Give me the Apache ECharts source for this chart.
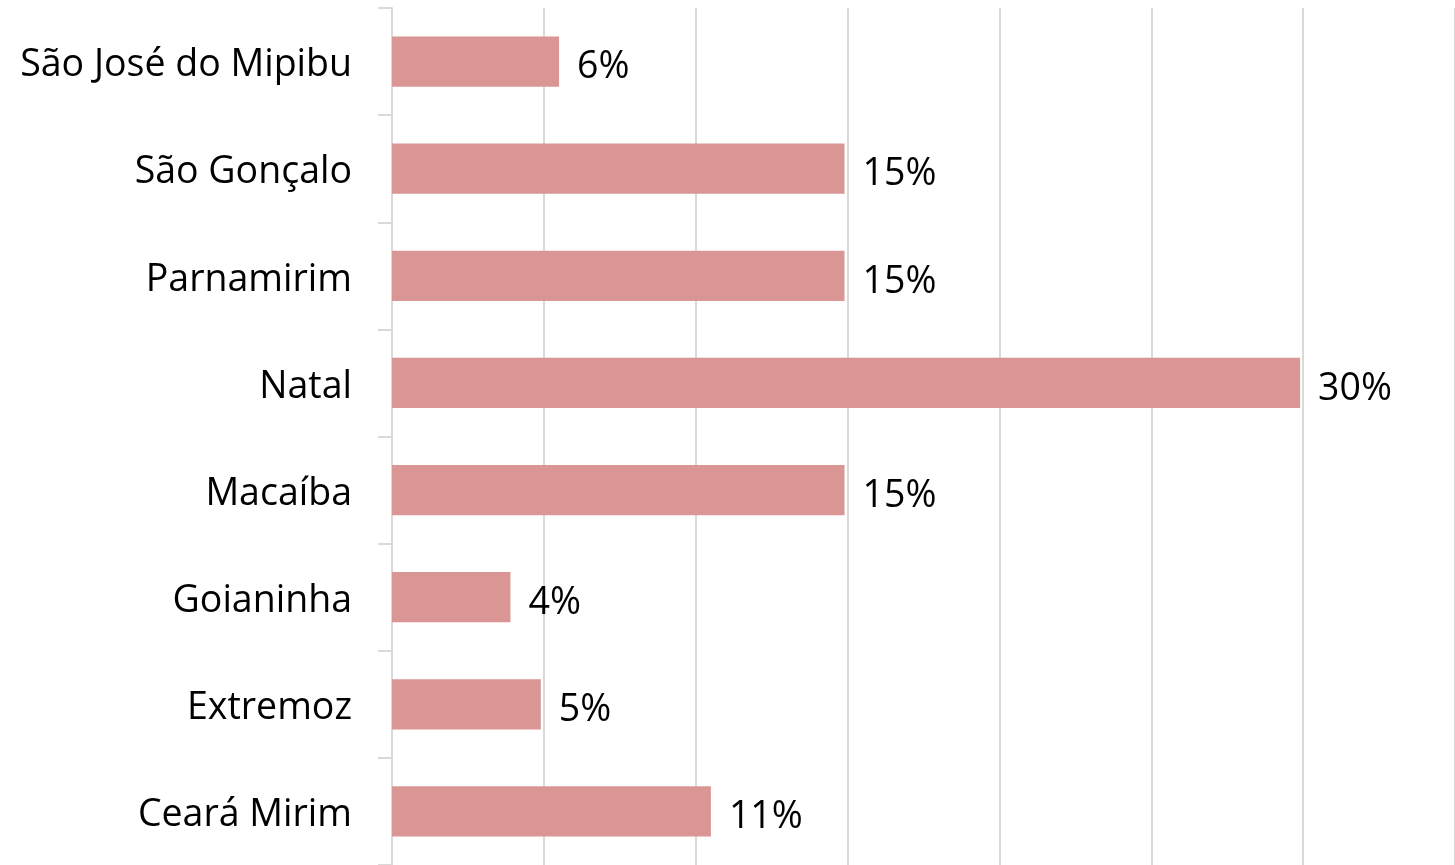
<!DOCTYPE html>
<html>
<head>
<meta charset="utf-8">
<script src="https://cdn.jsdelivr.net/npm/echarts@6/dist/echarts.min.js"></script>
<style>html,body{margin:0;padding:0;background:#fff;}#c{width:1455px;height:865px;}</style>
</head>
<body>
<div id="c"></div>
<script>
const categories = ['Ceará Mirim','Extremoz','Goianinha','Macaíba','Natal','Parnamirim','São Gonçalo','São José do Mipibu'];
const values = [10.5, 4.9, 3.9, 14.9, 29.9, 14.9, 14.9, 5.5];
const xMax = 35;
const xInterval = 5;

const chart = echarts.init(document.getElementById('c'), null, {renderer:'canvas'});
const FONT = 'Open Sans';
chart.setOption({
  animation:false,
  grid:{left:392, right:0, top:8, bottom:0, containLabel:false},
  xAxis:{type:'value', min:0, max:xMax, interval:xInterval,
    axisLabel:{show:false}, axisLine:{show:false}, axisTick:{show:false},
    splitLine:{show:true, lineStyle:{color:'#d9d9d9', width:2}}},
  yAxis:{type:'category', data:categories,
    axisLine:{show:true, lineStyle:{color:'#d9d9d9', width:2}},
    axisTick:{show:true, length:14, lineStyle:{color:'#d9d9d9', width:2}},
    axisLabel:{margin:40, formatter:v=>'{a|'+v+'}',
      rich:{a:{fontFamily:FONT, fontSize:37.5, color:'#000', padding:[8,0,0,0]}}}},
  series:[{type:'bar', data:values, barCategoryGap:'53%',
    itemStyle:{color:'#DA9694'},
    label:{show:true, position:'right', distance:18,
      formatter:p=>'{a|'+Math.round(p.value)+'%}',
      rich:{a:{fontFamily:FONT, fontSize:37.5, color:'#000', padding:[12,0,0,0]}}}}]
});
</script>
</body>
</html>
